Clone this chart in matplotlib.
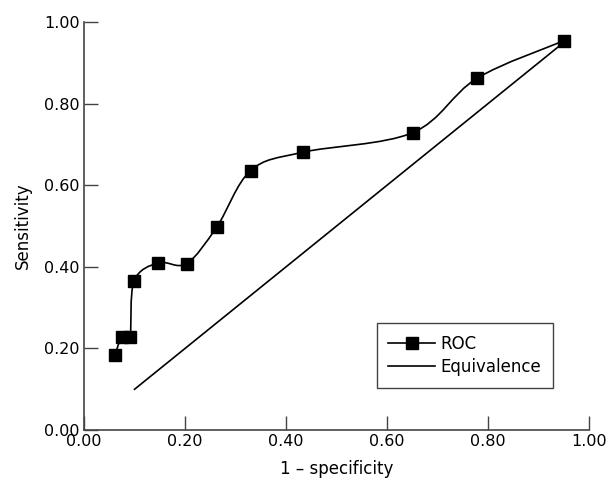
import matplotlib
matplotlib.use("Agg")
import matplotlib.pyplot as plt
from matplotlib.path import Path
from matplotlib.patches import PathPatch
from matplotlib.lines import Line2D

# ROC points
fpr = [0.061, 0.075, 0.091, 0.099, 0.147, 0.203, 0.263, 0.330, 0.433, 0.651, 0.778, 0.950]
sens = [0.184, 0.228, 0.228, 0.365, 0.410, 0.408, 0.498, 0.636, 0.681, 0.729, 0.862, 0.954]

# equivalence line ends
equiv_x = [0.10, 0.95]
equiv_y = [0.10, 0.95]

ticks = [0.0, 0.2, 0.4, 0.6, 0.8, 1.0]
tick_labels = ["0.00", "0.20", "0.40", "0.60", "0.80", "1.00"]

plt.rcParams['font.family'] = ['DejaVu Sans']

fig = plt.figure(figsize=(6.09, 4.8), dpi=100)
ax = fig.add_axes([0.138, 0.104, 0.829, 0.85])


def smooth_path(xs, ys, t=1.0 / 6):
    # Catmull-Rom style bezier through the points (like a smoothed line)
    pts = list(zip(xs, ys))
    verts = [pts[0]]
    codes = [Path.MOVETO]
    n = len(pts)
    for i in range(n - 1):
        p0 = pts[i - 1] if i > 0 else pts[i]
        p1 = pts[i]
        p2 = pts[i + 1]
        p3 = pts[i + 2] if i + 2 < n else pts[i + 1]
        c1 = (p1[0] + (p2[0] - p0[0]) * t, p1[1] + (p2[1] - p0[1]) * t)
        c2 = (p2[0] - (p3[0] - p1[0]) * t, p2[1] - (p3[1] - p1[1]) * t)
        verts += [c1, c2, p2]
        codes += [Path.CURVE4] * 3
    return Path(verts, codes)


ax.add_patch(PathPatch(smooth_path(fpr, sens), facecolor='none', edgecolor='black', lw=1.2, zorder=2))
ax.plot(fpr, sens, linestyle='none', marker='s', markersize=9, color='black', zorder=3)
ax.plot(equiv_x, equiv_y, color='black', lw=1.2, zorder=2)

ax.set_xlim(0, 1)
ax.set_ylim(0, 1)
ax.set_xticks(ticks)
ax.set_xticklabels(tick_labels)
ax.set_yticks(ticks)
ax.set_yticklabels(tick_labels)
ax.tick_params(direction='in', length=10, width=1, labelsize=11.5, color='#444444', pad=3)
for s in ['top', 'right']:
    ax.spines[s].set_visible(False)
for s in ['left', 'bottom']:
    ax.spines[s].set_color('#444444')
    ax.spines[s].set_linewidth(1.2)

ax.set_xlabel('1 – specificity', fontsize=12, labelpad=8)
ax.set_ylabel('Sensitivity', fontsize=12, labelpad=9)

handles = [Line2D([], [], color='black', lw=1.2, marker='s', markersize=9),
           Line2D([], [], color='black', lw=1.2)]
leg = ax.legend(handles, ['ROC', 'Equivalence'], loc='lower right', bbox_to_anchor=(0.928, 0.104),
                fontsize=12, fancybox=False, framealpha=1, edgecolor='#444444',
                handlelength=2.8, handletextpad=0.3, borderpad=0.7, labelspacing=0.3,
                borderaxespad=0)
leg.get_frame().set_linewidth(1.0)

fig.savefig('out.png', dpi=100)
